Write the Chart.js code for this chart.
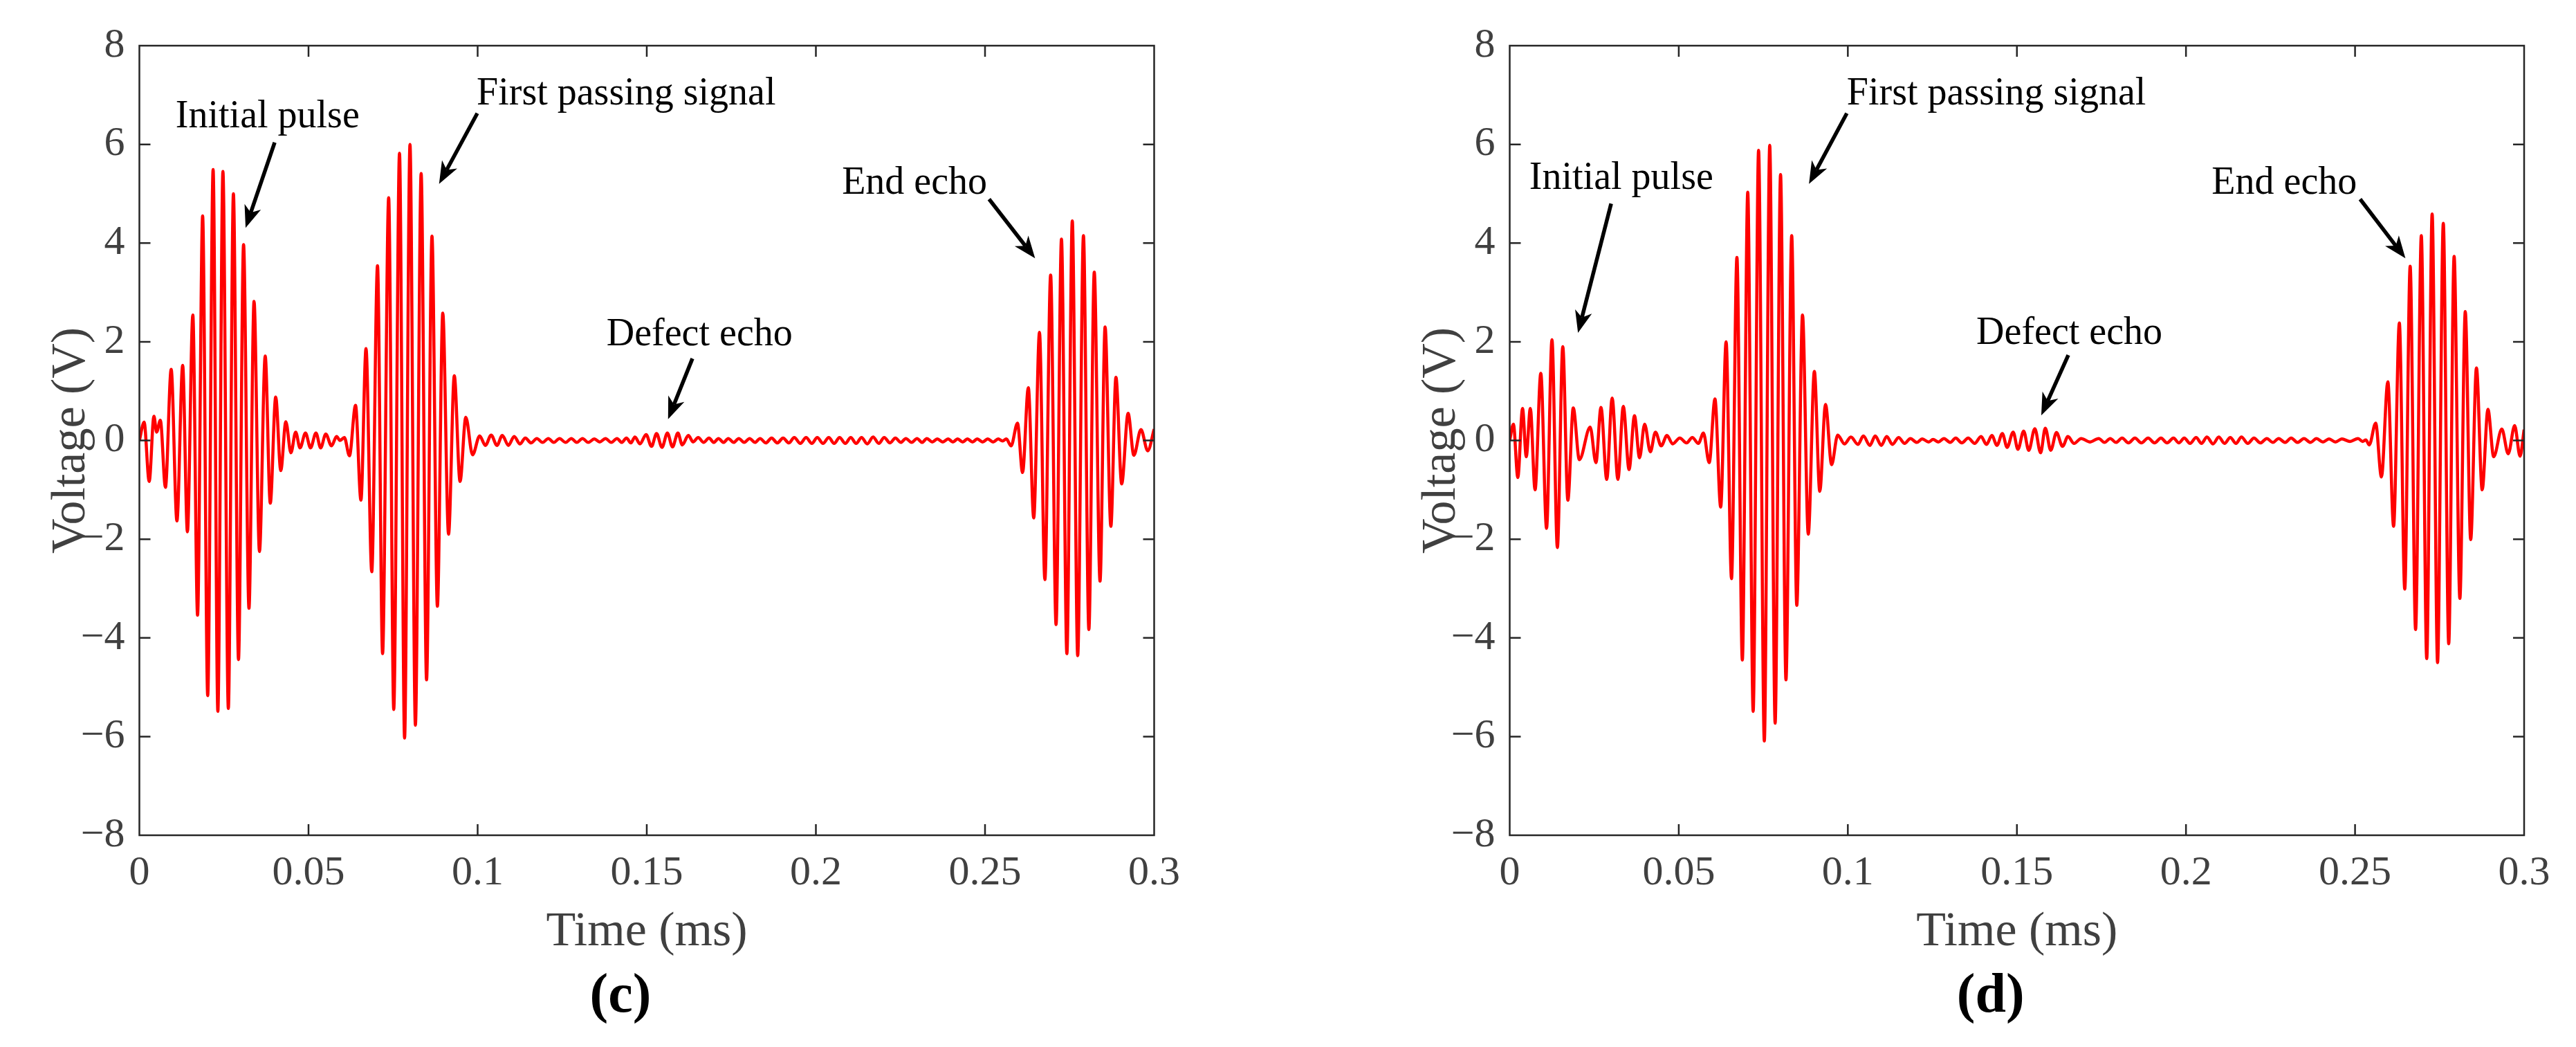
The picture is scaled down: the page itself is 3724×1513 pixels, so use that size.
<!DOCTYPE html>
<html lang="en">
<head>
<meta charset="UTF-8">
<title>Ultrasonic signals (c) and (d)</title>
<script src="https://cdn.jsdelivr.net/npm/chart.js"></script>
<style>
  body { margin: 0; background: #fff; }
  .panel { position: absolute; top: 0; width: 1862px; height: 1513px; }
</style>
</head>
<body>
<div class="panel" style="left:0"><canvas id="chartC" width="1862" height="1513"></canvas></div>
<div class="panel" style="left:1862px"><canvas id="chartD" width="1862" height="1513"></canvas></div>

<script>
// tick labels
const xTickLabels = ['0', '0.05', '0.1', '0.15', '0.2', '0.25', '0.3'];
const yTickLabels = ['\u22128', '\u22126', '\u22124', '\u22122', '0', '2', '4', '6', '8'];

// panel (c): [time ms, voltage V] at the peaks and troughs
const initialC = [[0,0],[0.0014,0.37],[0.0029,-0.83],[0.0043,0.49],[0.0051,0.17],[0.0062,0.41],[0.0077,-0.95],[0.0094,1.44],[0.0111,-1.63],[0.0128,1.52],[0.0142,-1.85],[0.0158,2.54],[0.0172,-3.54],[0.0187,4.55],[0.0202,-5.17],[0.0218,5.49],[0.0232,-5.49],[0.0247,5.45],[0.0263,-5.43],[0.0278,5.0],[0.0293,-4.44],[0.0308,3.97],[0.0324,-3.40],[0.0339,2.82],[0.0355,-2.25],[0.0372,1.71],[0.0387,-1.27],[0.0403,0.88],[0.0418,-0.61],[0.0433,0.38],[0.0448,-0.25],[0.0462,0.17],[0.0475,-0.15],[0.0491,0.15],[0.0506,-0.15],[0.0522,0.15],[0.0536,-0.15],[0.0551,0.13],[0.0568,-0.11],[0.0583,0.08],[0.0593,0.0],[0.0606,0.06]];
const passC = [[0.0621,-0.31],[0.0639,0.71],[0.0655,-1.21],[0.0670,1.86],[0.0687,-2.66],[0.0704,3.54],[0.0719,-4.32],[0.0737,4.92],[0.0752,-5.45],[0.0769,5.82],[0.0784,-6.03],[0.0800,6.0],[0.0816,-5.77],[0.0833,5.41],[0.0849,-4.85],[0.0865,4.14],[0.0881,-3.36],[0.0897,2.58],[0.0914,-1.90],[0.0931,1.31],[0.0948,-0.83],[0.0965,0.47],[0.0985,-0.29]];
const rippleC = [[0.1006,0.09],[0.1023,-0.10],[0.1040,0.11],[0.1057,-0.10],[0.1073,0.10],[0.1091,-0.10],[0.1108,0.08],[0.1125,-0.07],[0.1141,0.05],[0.1158,-0.05],[0.1175,0.04],[0.1192,-0.04],[0.1209,0.04],[0.1225,-0.04],[0.1242,0.04],[0.1260,-0.04],[0.1277,0.04],[0.1293,-0.04],[0.1310,0.04],[0.1327,-0.04],[0.1345,0.03],[0.1361,-0.03],[0.1378,0.04],[0.1395,-0.04],[0.1412,0.04],[0.1426,-0.04],[0.1440,0.05],[0.1453,-0.05],[0.1465,0.07],[0.1480,-0.07],[0.1498,0.12],[0.1514,-0.12],[0.1529,0.14],[0.1545,-0.14],[0.1561,0.15],[0.1576,-0.13],[0.1592,0.15],[0.1605,-0.09],[0.1623,0.10],[0.1637,-0.03],[0.1652,0.06],[0.1668,-0.04],[0.1684,0.05],[0.1698,-0.04],[0.1712,0.04],[0.1727,-0.04],[0.1741,0.04],[0.1757,-0.04],[0.1772,0.04],[0.1788,-0.04],[0.1804,0.04],[0.1820,-0.04],[0.1835,0.04],[0.1852,-0.05],[0.1869,0.05],[0.1886,-0.05],[0.1903,0.05],[0.1920,-0.05],[0.1936,0.06],[0.1954,-0.06],[0.1971,0.06],[0.1988,-0.06],[0.2004,0.06],[0.2021,-0.06],[0.2038,0.06],[0.2054,-0.06],[0.2070,0.06],[0.2087,-0.06],[0.2103,0.06],[0.2119,-0.06],[0.2135,0.06],[0.2152,-0.07],[0.2169,0.07],[0.2186,-0.06],[0.2202,0.06],[0.2219,-0.05],[0.2235,0.05],[0.2251,-0.04],[0.2266,0.04],[0.2283,-0.04],[0.2299,0.04],[0.2314,-0.04],[0.2328,0.04],[0.2344,-0.03],[0.2359,0.03],[0.2375,-0.03],[0.2391,0.03],[0.2405,-0.03],[0.2419,0.03],[0.2434,-0.03],[0.2448,0.03],[0.2463,-0.03],[0.2477,0.03],[0.2493,-0.03],[0.2508,0.03],[0.2524,-0.03],[0.2539,0.03],[0.2552,-0.01],[0.2563,0.03]];
const endC = [[0.2577,-0.11],[0.2596,0.35],[0.2611,-0.65],[0.2628,1.07],[0.2644,-1.57],[0.2661,2.19],[0.2677,-2.82],[0.2694,3.35],[0.2710,-3.73],[0.2726,4.08],[0.2742,-4.32],[0.2758,4.45],[0.2774,-4.36],[0.2791,4.15],[0.2807,-3.83],[0.2823,3.41],[0.2840,-2.85],[0.2855,2.30],[0.2872,-1.74],[0.2887,1.28],[0.2904,-0.88],[0.2923,0.55],[0.2940,-0.30],[0.2961,0.22],[0.2981,-0.21],[0.3000,0.23]];

// panel (d)
const initialD = [[0,0],[0.0011,0.33],[0.0024,-0.75],[0.0038,0.65],[0.0049,-0.33],[0.0061,0.65],[0.0075,-1.00],[0.0092,1.36],[0.0109,-1.78],[0.0125,2.04],[0.0141,-2.17],[0.0157,1.90],[0.0172,-1.21],[0.0188,0.66],[0.0206,-0.39],[0.0238,0.27],[0.0255,-0.45],[0.0270,0.67],[0.0287,-0.79],[0.0303,0.86],[0.0320,-0.79],[0.0336,0.69],[0.0353,-0.59],[0.0369,0.50],[0.0384,-0.35],[0.0399,0.33],[0.0416,-0.23],[0.0431,0.17],[0.0448,-0.11],[0.0465,0.10],[0.0482,-0.07],[0.0503,0.05],[0.0523,-0.05],[0.0540,0.06],[0.0558,-0.06]];
const passD = [[0.0573,0.15],[0.0590,-0.45],[0.0607,0.84],[0.0624,-1.35],[0.0640,2.00],[0.0656,-2.80],[0.0672,3.71],[0.0688,-4.45],[0.0704,5.03],[0.0720,-5.49],[0.0736,5.88],[0.0753,-6.09],[0.0769,5.98],[0.0785,-5.73],[0.0801,5.39],[0.0817,-4.85],[0.0834,4.15],[0.0849,-3.34],[0.0866,2.54],[0.0883,-1.90],[0.0901,1.40],[0.0917,-1.03],[0.0934,0.73],[0.0952,-0.49]];
const rippleD = [[0.0970,0.11],[0.0990,-0.07],[0.1009,0.07],[0.1030,-0.08],[0.1046,0.09],[0.1065,-0.10],[0.1081,0.09],[0.1099,-0.10],[0.1115,0.08],[0.1132,-0.08],[0.1150,0.06],[0.1168,-0.06],[0.1185,0.04],[0.1204,-0.04],[0.1220,0.03],[0.1239,-0.03],[0.1252,0.02],[0.1268,-0.03],[0.1284,0.04],[0.1303,-0.04],[0.1319,0.05],[0.1337,-0.05],[0.1356,0.05],[0.1375,-0.06],[0.1394,0.08],[0.1410,-0.08],[0.1426,0.10],[0.1441,-0.10],[0.1457,0.14],[0.1471,-0.14],[0.1489,0.17],[0.1503,-0.18],[0.1520,0.19],[0.1535,-0.20],[0.1553,0.24],[0.1570,-0.25],[0.1584,0.25],[0.1600,-0.20],[0.1617,0.16],[0.1635,-0.12],[0.1651,0.08],[0.1669,-0.06],[0.1690,0.04],[0.1716,-0.03],[0.1742,0.04],[0.1759,-0.04],[0.1776,0.04],[0.1793,-0.04],[0.1811,0.05],[0.1830,-0.05],[0.1849,0.05],[0.1868,-0.05],[0.1888,0.05],[0.1907,-0.05],[0.1926,0.05],[0.1944,-0.05],[0.1963,0.05],[0.1979,-0.05],[0.1995,0.05],[0.2012,-0.06],[0.2030,0.06],[0.2046,-0.06],[0.2062,0.07],[0.2080,-0.07],[0.2097,0.07],[0.2114,-0.06],[0.2131,0.06],[0.2148,-0.06],[0.2164,0.07],[0.2183,-0.06],[0.2201,0.05],[0.2220,-0.05],[0.2239,0.04],[0.2257,-0.04],[0.2274,0.04],[0.2293,-0.04],[0.2311,0.05],[0.2330,-0.04],[0.2349,0.04],[0.2368,-0.04],[0.2386,0.04],[0.2405,-0.03],[0.2423,0.03],[0.2442,-0.03],[0.2461,0.03],[0.2485,-0.02],[0.2509,0.04],[0.2522,-0.02],[0.2532,0.01]];
const endD = [[0.2542,-0.09],[0.2561,0.35],[0.2578,-0.74],[0.2597,1.19],[0.2614,-1.74],[0.2631,2.38],[0.2647,-3.01],[0.2663,3.53],[0.2679,-3.83],[0.2696,4.15],[0.2712,-4.42],[0.2728,4.59],[0.2744,-4.50],[0.2761,4.40],[0.2777,-4.12],[0.2793,3.73],[0.2810,-3.20],[0.2826,2.61],[0.2842,-2.01],[0.2859,1.47],[0.2876,-1.00],[0.2893,0.63],[0.2910,-0.33],[0.2934,0.23],[0.2953,-0.27],[0.2972,0.30],[0.2988,-0.32],[0.3000,0.22]];

// annotations: text anchor and arrow tail/tip, in data units (ms, V)
const notesC = [
  { text: 'Initial pulse', x: 0.0107, y: 6.35, tail: [0.0400, 6.04], tip: [0.0314, 4.31] },
  { text: 'First passing signal', x: 0.0997, y: 6.81, tail: [0.0999, 6.63], tip: [0.0886, 5.20] },
  { text: 'Defect echo', x: 0.1381, y: 1.93, tail: [0.1635, 1.66], tip: [0.1563, 0.43] },
  { text: 'End echo', x: 0.2077, y: 5.0, tail: [0.2512, 4.89], tip: [0.2648, 3.69] }
];
const notesD = [
  { text: 'Initial pulse', x: 0.0058, y: 5.10, tail: [0.0300, 4.80], tip: [0.0202, 2.18] },
  { text: 'First passing signal', x: 0.0997, y: 6.81, tail: [0.0997, 6.63], tip: [0.0885, 5.20] },
  { text: 'Defect echo', x: 0.1380, y: 1.96, tail: [0.1652, 1.73], tip: [0.1572, 0.51] },
  { text: 'End echo', x: 0.2076, y: 5.0, tail: [0.2515, 4.89], tip: [0.2649, 3.69] }
];

const SERIF = "'Liberation Serif', 'Times New Roman', serif";
const AXIS_GREY = '#404040';
const BOX = '#262626';

function drawArrow(ctx, x1, y1, x2, y2) {
  const ang = Math.atan2(y2 - y1, x2 - x1);
  const headLen = 32, headHalf = 12.5, notch = 9;
  ctx.lineWidth = 5.5;
  ctx.beginPath();
  ctx.moveTo(x1, y1);
  ctx.lineTo(x2 - Math.cos(ang) * (headLen - notch), y2 - Math.sin(ang) * (headLen - notch));
  ctx.stroke();
  ctx.save();
  ctx.translate(x2, y2);
  ctx.rotate(ang);
  ctx.beginPath();
  ctx.moveTo(0, 0);
  ctx.lineTo(-headLen, -headHalf);
  ctx.lineTo(-headLen + notch, 0);
  ctx.lineTo(-headLen, headHalf);
  ctx.closePath();
  ctx.fill();
  ctx.restore();
}

function figurePlugin(notes, label) {
  return {
    id: 'figure',
    afterDraw(chart) {
      const { ctx, chartArea: a, scales: { x, y } } = chart;
      ctx.save();

      // box with inward ticks on all four sides
      ctx.strokeStyle = BOX;
      ctx.lineWidth = 2.5;
      ctx.strokeRect(a.left, a.top, a.right - a.left, a.bottom - a.top);
      ctx.beginPath();
      x.ticks.forEach((t, i) => {
        if (i === 0 || i === x.ticks.length - 1) return;
        const px = x.getPixelForValue(t.value);
        ctx.moveTo(px, a.bottom); ctx.lineTo(px, a.bottom - 16);
        ctx.moveTo(px, a.top); ctx.lineTo(px, a.top + 16);
      });
      y.ticks.forEach((t, i) => {
        if (i === 0 || i === y.ticks.length - 1) return;
        const py = y.getPixelForValue(t.value);
        ctx.moveTo(a.left, py); ctx.lineTo(a.left + 16, py);
        ctx.moveTo(a.right, py); ctx.lineTo(a.right - 16, py);
      });
      ctx.stroke();

      // axis titles
      const cx = (a.left + a.right) / 2;
      ctx.fillStyle = AXIS_GREY;
      ctx.font = '70px ' + SERIF;
      ctx.textAlign = 'center';
      ctx.textBaseline = 'alphabetic';
      ctx.fillText('Time (ms)', cx, a.bottom + 159);
      ctx.save();
      ctx.translate(a.left - 80, (a.top + a.bottom) / 2);
      ctx.rotate(-Math.PI / 2);
      ctx.fillText('Voltage (V)', 0, 0);
      ctx.restore();

      // panel label
      ctx.fillStyle = '#000';
      ctx.font = 'bold 80px ' + SERIF;
      ctx.fillText(label, cx - 38, a.bottom + 255);

      // annotations
      ctx.font = '56px ' + SERIF;
      ctx.textAlign = 'left';
      ctx.strokeStyle = '#000';
      notes.forEach(n => {
        ctx.fillText(n.text, x.getPixelForValue(n.x), y.getPixelForValue(n.y));
        drawArrow(ctx,
          x.getPixelForValue(n.tail[0]), y.getPixelForValue(n.tail[1]),
          x.getPixelForValue(n.tip[0]), y.getPixelForValue(n.tip[1]));
      });
      ctx.restore();
    }
  };
}

function makeChart(id, segments, notes, label, yWidth, padRight) {
  const points = [].concat(...segments).map(([t, v]) => ({ x: t, y: v }));
  return new Chart(document.getElementById(id), {
    type: 'line',
    data: {
      datasets: [{
        data: points,
        borderColor: '#ff0000',
        borderWidth: 4.5,
        borderJoinStyle: 'round',
        pointRadius: 0,
        cubicInterpolationMode: 'monotone',
        tension: 0.4,
        fill: false
      }]
    },
    options: {
      responsive: false,
      devicePixelRatio: 1,
      animation: false,
      events: [],
      layout: { padding: { top: 66, right: padRight, bottom: 0, left: 0 } },
      plugins: { legend: { display: false }, tooltip: { enabled: false } },
      scales: {
        x: {
          type: 'linear',
          min: 0,
          max: 0.3,
          grid: { display: false, drawTicks: false },
          border: { display: false },
          ticks: {
            stepSize: 0.05,
            padding: 19,
            color: AXIS_GREY,
            font: { family: SERIF, size: 60 },
            maxRotation: 0,
            callback: (v, i) => xTickLabels[i]
          },
          afterFit: s => { s.height = 306; }
        },
        y: {
          min: -8,
          max: 8,
          grid: { display: false, drawTicks: false },
          border: { display: false },
          ticks: {
            stepSize: 2,
            padding: 21,
            color: AXIS_GREY,
            font: { family: SERIF, size: 60 },
            callback: (v, i) => yTickLabels[i]
          },
          afterFit: s => { s.width = yWidth; }
        }
      }
    },
    plugins: [figurePlugin(notes, label)]
  });
}

makeChart('chartC', [initialC, passC, rippleC, endC], notesC, '(c)', 201.5, 193.5);
makeChart('chartD', [initialD, passD, rippleD, endD], notesD, '(d)', 320.5, 75);
</script>
</body>
</html>
